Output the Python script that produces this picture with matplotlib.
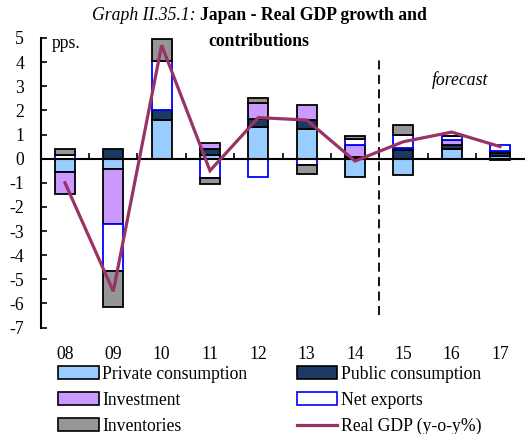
import numpy as np
import matplotlib
matplotlib.use("Agg")
import matplotlib.pyplot as plt
from matplotlib.patches import Patch
from matplotlib.lines import Line2D

plt.rcParams['font.family'] = ['Liberation Serif', 'DejaVu Serif']
plt.rcParams['axes.unicode_minus'] = False

years = ['08', '09', '10', '11', '12', '13', '14', '15', '16', '17']
private_consumption = [-0.57, -0.41, 1.62, 0.14, 1.31, 1.21, -0.76, -0.69, 0.41, 0.10]
public_consumption = [0.00, 0.39, 0.39, 0.26, 0.32, 0.38, 0.05, 0.34, 0.14, 0.15]
investment = [-0.90, -2.28, 0.00, 0.26, 0.68, 0.62, 0.50, 0.10, 0.21, 0.07]
net_exports = [0.17, -1.95, 2.03, -0.80, -0.76, -0.25, 0.28, 0.56, 0.18, 0.23]
inventories = [0.22, -1.52, 0.91, -0.24, 0.22, -0.38, 0.10, 0.41, 0.00, -0.05]
real_gdp = [-1.0, -5.5, 4.7, -0.5, 1.7, 1.6, -0.1, 0.7, 1.1, 0.5]

components = [
    ("Private consumption", private_consumption, "#99CCFF", "black"),
    ("Public consumption", public_consumption, "#1B3A63", "black"),
    ("Investment", investment, "#CC99FF", "black"),
    ("Net exports", net_exports, "white", "#0000FF"),
    ("Inventories", inventories, "#969696", "black"),
]

FS = 12.7

fig = plt.figure(figsize=(5.29, 4.34), dpi=100)
ax = fig.add_axes([40.8 / 529, 1 - 327.5 / 434, 483.4 / 529, 289.5 / 434])

x = np.arange(len(years))
pos_base = np.zeros(len(years))
neg_base = np.zeros(len(years))
width = 0.41
for name, vals, fc, ec in components:
    v = np.asarray(vals, dtype=float)
    bottom = np.where(v >= 0, pos_base, neg_base)
    ax.bar(x, v, width=width, bottom=bottom, color=fc, edgecolor=ec,
           linewidth=1.3, zorder=2)
    pos_base = pos_base + np.clip(v, 0, None)
    neg_base = neg_base + np.clip(v, None, 0)

ax.plot(x, real_gdp, color="#993366", linewidth=2.3, zorder=4,
        solid_joinstyle='miter')

ax.set_xlim(-0.5, len(years) - 0.5)
ax.set_ylim(-7, 5)
ax.set_yticks(np.arange(-7, 6))
ax.set_xticks(x)
ax.set_xticklabels(years)
ax.set_xticks(np.arange(0.5, len(years) - 1, 1.0), minor=True)
ax.tick_params(axis='x', which='major', length=0, pad=13, labelsize=FS,
               top=False)
ax.tick_params(axis='x', which='minor', top=True, bottom=False,
               direction='out', length=4, width=1.2)
ax.tick_params(axis='y', direction='in', length=4, width=1.2, pad=12,
               labelsize=FS)

ax.spines['right'].set_visible(False)
ax.spines['bottom'].set_visible(False)
ax.spines['left'].set_linewidth(1.5)
# top spine moved onto the zero line, carrying the category separators
ax.spines['top'].set_position(('data', 0))
ax.spines['top'].set_linewidth(1.5)
ax.spines['top'].set_zorder(3)

# forecast divider
ax.vlines(6.5, -6.5, 4.1, colors='black', linewidth=1.3,
          linestyles=(0, (5, 3)), zorder=3)
ax.text(8.17, 3.25, "forecast", fontsize=FS, style='italic',
        ha='center', va='center')
ax.text(0.023, 0.98, "pps.", transform=ax.transAxes, fontsize=FS,
        ha='left', va='center')

# title
fig.text(0.3705, 1 - 16 / 434, "Graph II.35.1:", style='italic', fontsize=FS,
         ha='right', va='center')
fig.text(0.3785, 1 - 16 / 434, "Japan - Real GDP growth and", weight='bold',
         fontsize=FS, ha='left', va='center')
fig.text(259 / 529, 1 - 42 / 434, "contributions", weight='bold', fontsize=FS,
         ha='center', va='center')

# legend
handle_map = {}
for name, vals, fc, ec in components:
    handle_map[name] = Patch(facecolor=fc, edgecolor=ec, linewidth=1.2)
handle_map["Real GDP (y-o-y%)"] = Line2D([0], [0], color="#993366", linewidth=2.3)
order = ["Private consumption", "Investment", "Inventories",
         "Public consumption", "Net exports", "Real GDP (y-o-y%)"]
fig.legend([handle_map[k] for k in order], order, ncol=2,
           loc='upper left', bbox_to_anchor=(58 / 529, 1 - 366 / 434),
           frameon=False, fontsize=FS, handlelength=2.3, handleheight=0.75,
           handletextpad=0.2, columnspacing=2.8, labelspacing=0.5,
           borderpad=0, borderaxespad=0)

fig.savefig("out.png", dpi=100)
